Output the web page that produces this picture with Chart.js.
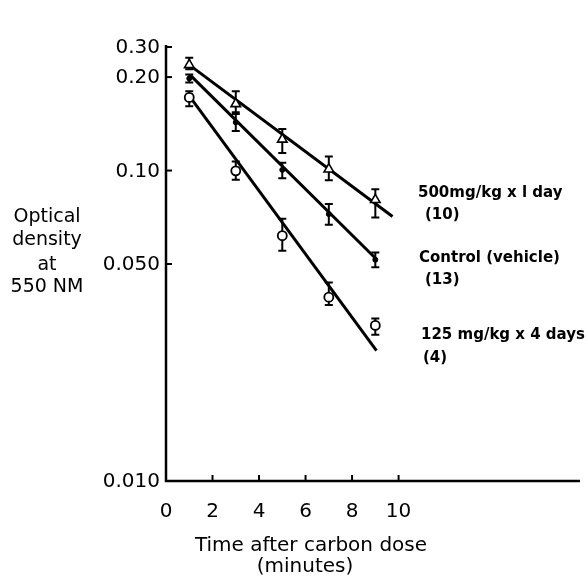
<!DOCTYPE html>
<html>
<head>
<meta charset="utf-8">
<script src="https://cdn.jsdelivr.net/npm/chart.js@4.4.0/dist/chart.umd.min.js"></script>
<style>
  html, body { margin: 0; padding: 0; background: #fff; }
  #wrap { width: 588px; height: 578px; }
</style>
</head>
<body>
<div id="wrap"><canvas id="chart" width="588" height="578"></canvas></div>
<script>
// ---- data ----
const xValues = [1, 3, 5, 7, 9];

const dose500 = [0.219, 0.164, 0.126, 0.101, 0.0805];
const dose500Low = [0.212, 0.152, 0.114, 0.093, 0.0706];
const dose500High = [0.231, 0.180, 0.136, 0.111, 0.087];

const control = [0.198, 0.143, 0.1005, 0.0724, 0.0516];
const controlLow = [0.192, 0.134, 0.0945, 0.0669, 0.0488];
const controlHigh = [0.204, 0.154, 0.106, 0.078, 0.0545];

const dose125 = [0.172, 0.0998, 0.0617, 0.0391, 0.0317];
const dose125Low = [0.161, 0.0934, 0.0552, 0.0369, 0.0296];
const dose125High = [0.180, 0.107, 0.070, 0.0436, 0.0334];

// fitted regression lines (end points)
const fit500X = [0.97, 9.74];
const fit500Y = [0.2197, 0.0711];
const fitControlX = [1.03, 9.05];
const fitControlY = [0.2034, 0.0518];
const fit125X = [1.11, 9.05];
const fit125Y = [0.1696, 0.0263];

// axes
const xTicks = [0, 2, 4, 6, 8, 10];
const xTickLabels = ["0", "2", "4", "6", "8", "10"];
const yTicks = [0.01, 0.05, 0.1, 0.2, 0.25];
const yTickLabels = ["0.010", "0.050", "0.10", "0.20", "0.30"];

const xTitle = ["Time after carbon dose", "(minutes)"];
const yTitle = ["Optical", "density", "at", "550 NM"];
const seriesLabels = [
  ["500mg/kg x l day", "(10)"],
  ["Control (vehicle)", "(13)"],
  ["125 mg/kg x 4 days", "(4)"]
];

const toPts = (xs, ys) => xs.map((x, i) => ({ x: x, y: ys[i] }));

// ---- extra drawing: error bars, axes, texts ----
const errBars = [
  [dose500Low, dose500High],
  [controlLow, controlHigh],
  [dose125Low, dose125High]
];

const figurePlugin = {
  id: "figure",
  beforeDatasetsDraw(chart) {
    const ctx = chart.ctx;
    const xs = chart.scales.x, ys = chart.scales.y;
    ctx.save();
    ctx.strokeStyle = "#000";
    ctx.lineWidth = 2;
    errBars.forEach(([lo, hi]) => {
      xValues.forEach((xv, i) => {
        const x = xs.getPixelForValue(xv);
        const y1 = ys.getPixelForValue(lo[i]);
        const y2 = ys.getPixelForValue(hi[i]);
        ctx.beginPath();
        ctx.moveTo(x, y1); ctx.lineTo(x, y2);
        ctx.moveTo(x - 4, y1); ctx.lineTo(x + 4, y1);
        ctx.moveTo(x - 4, y2); ctx.lineTo(x + 4, y2);
        ctx.stroke();
      });
    });
    ctx.restore();
  },
  afterDraw(chart) {
    const ctx = chart.ctx;
    const xs = chart.scales.x, ys = chart.scales.y;
    const a = chart.chartArea;
    ctx.save();
    ctx.strokeStyle = "#000";
    ctx.fillStyle = "#000";
    ctx.lineWidth = 2.5;
    ctx.beginPath();
    ctx.moveTo(a.left, a.top - 2);
    ctx.lineTo(a.left, a.bottom);
    ctx.lineTo(a.right, a.bottom);
    ctx.stroke();

    ctx.lineWidth = 2;
    // y ticks
    ctx.font = "20px 'DejaVu Sans'";
    ctx.textAlign = "right";
    ctx.textBaseline = "middle";
    yTicks.forEach((v, i) => {
      const y = ys.getPixelForValue(v);
      ctx.beginPath(); ctx.moveTo(a.left, y); ctx.lineTo(a.left + 6, y); ctx.stroke();
      ctx.fillText(yTickLabels[i], a.left - 6, y + 1);
    });
    // x ticks
    ctx.font = "20px 'DejaVu Sans'";
    ctx.textAlign = "center";
    ctx.textBaseline = "alphabetic";
    xTicks.forEach((v, i) => {
      const x = xs.getPixelForValue(v);
      ctx.beginPath(); ctx.moveTo(x, a.bottom); ctx.lineTo(x, a.bottom - 6); ctx.stroke();
      ctx.fillText(xTickLabels[i], x, a.bottom + 36);
    });
    // x title
    ctx.font = "20px 'DejaVu Sans'";
    ctx.fillText(xTitle[0], 311, 551);
    ctx.fillText(xTitle[1], 305, 572);
    // y title
    ctx.font = "19px 'DejaVu Sans'";
    const yBase = [222, 245, 270, 292];
    yTitle.forEach((t, i) => ctx.fillText(t, 47, yBase[i]));
    // series labels
    ctx.font = "bold 15px 'DejaVu Sans'";
    ctx.textAlign = "left";
    const lblPos = [[418, 197, 425, 219], [419, 262, 425, 284], [421, 339, 423, 362]];
    seriesLabels.forEach((l, i) => {
      const p = lblPos[i];
      ctx.fillText(l[0], p[0], p[1]);
      ctx.fillText(l[1], p[2], p[3]);
    });
    ctx.restore();
  }
};

const lineStyle = {
  showLine: true, borderColor: "#000", borderWidth: 3,
  pointRadius: 0, fill: false, order: 2
};

new Chart(document.getElementById("chart"), {
  type: "scatter",
  data: {
    datasets: [
      Object.assign({ label: "fit 500", data: toPts(fit500X, fit500Y) }, lineStyle),
      Object.assign({ label: "fit control", data: toPts(fitControlX, fitControlY) }, lineStyle),
      Object.assign({ label: "fit 125", data: toPts(fit125X, fit125Y) }, lineStyle),
      {
        label: "500mg/kg x 1 day", data: toPts(xValues, dose500),
        pointStyle: "triangle", pointRadius: 5.5, pointBackgroundColor: "#fff",
        pointBorderColor: "#000", pointBorderWidth: 1.6, order: 0
      },
      {
        label: "Control (vehicle)", data: toPts(xValues, control),
        pointStyle: "circle", pointRadius: 2.5, pointBackgroundColor: "#000",
        pointBorderColor: "#000", pointBorderWidth: 1, order: 0
      },
      {
        label: "125 mg/kg x 4 days", data: toPts(xValues, dose125),
        pointStyle: "circle", pointRadius: 4.5, pointBackgroundColor: "#fff",
        pointBorderColor: "#000", pointBorderWidth: 1.8, order: 0
      }
    ]
  },
  options: {
    responsive: false,
    animation: false,
    layout: { padding: { left: 166, right: 8, top: 47, bottom: 97 } },
    plugins: { legend: { display: false }, tooltip: { enabled: false } },
    scales: {
      x: { type: "linear", min: 0, max: 17.8, display: false },
      y: { type: "logarithmic", min: 0.01, max: 0.25, display: false }
    }
  },
  plugins: [figurePlugin]
});
</script>
</body>
</html>
